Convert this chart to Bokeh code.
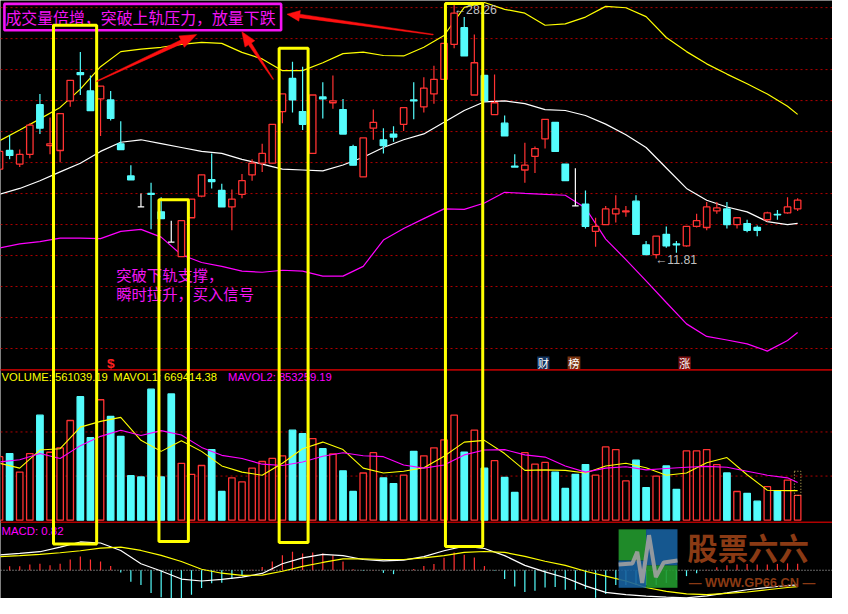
import math
from bokeh.plotting import figure
from bokeh.models import Range1d, Span
from bokeh.embed import file_html
from bokeh.resources import INLINE
from bokeh.core.properties import value

# ---------------- data ----------------
open_ = [17.58, 18.78, 17.90, 18.53, 21.73, 19.09, 18.78, 21.98, 23.81, 22.62,
         22.11, 22.04, 19.21, 17.14, 15.14, 16.01, 14.82, 12.87, 11.93, 14.44,
         15.83, 16.89, 16.20, 15.14, 15.95, 17.21, 17.96, 17.96, 21.29, 23.43,
         21.29, 18.59, 22.23, 21.86, 21.42, 19.03, 17.08, 20.22, 19.47, 19.84,
         20.47, 22.04, 21.60, 22.43, 23.37, 25.63, 26.70, 22.36, 23.62, 21.10,
         20.54, 17.77, 17.52, 18.40, 19.53, 20.60, 17.90, 15.20, 15.32, 13.56,
         14.00, 14.69, 14.82, 15.51, 12.69, 12.06, 13.37, 12.75, 12.62, 13.88,
         13.81, 14.88, 15.01, 14.00, 14.06, 13.81, 14.31, 14.66, 14.75, 15.01]
high = [18.72, 19.78, 18.84, 20.54, 22.43, 20.91, 21.16, 23.31, 25.13, 23.62,
        22.93, 22.62, 20.66, 17.83, 16.01, 16.70, 15.76, 14.25, 14.25, 15.64,
        17.21, 18.59, 16.64, 16.26, 17.27, 18.21, 19.21, 20.47, 22.43, 24.50,
        24.19, 22.36, 23.18, 23.62, 22.11, 19.15, 19.59, 21.42, 20.22, 20.35,
        21.54, 23.18, 23.50, 24.25, 25.69, 28.26, 27.39, 26.26, 23.62, 23.68,
        21.04, 18.53, 19.28, 19.03, 20.79, 20.60, 17.90, 17.64, 16.20, 14.44,
        15.20, 15.89, 15.20, 15.89, 12.94, 13.25, 13.88, 12.94, 13.88, 14.69,
        15.45, 15.45, 15.45, 14.44, 14.31, 13.94, 14.82, 14.94, 15.76, 15.70]
low = [17.58, 18.21, 17.71, 18.28, 19.84, 18.53, 18.02, 21.60, 22.36, 21.35,
       19.72, 20.72, 18.84, 16.89, 15.14, 13.69, 14.38, 12.87, 11.93, 14.44,
       15.76, 16.33, 15.14, 13.63, 15.70, 16.83, 17.39, 17.96, 20.54, 21.23,
       20.10, 18.59, 20.85, 21.48, 19.84, 17.83, 17.08, 19.47, 18.59, 19.34,
       20.03, 20.79, 21.23, 21.79, 23.37, 25.38, 24.88, 22.36, 21.98, 21.10,
       19.72, 17.71, 16.70, 17.33, 18.90, 18.72, 16.83, 15.20, 13.75, 12.56,
       14.00, 14.13, 14.50, 13.37, 12.06, 11.81, 12.50, 12.18, 12.56, 13.81,
       13.63, 14.69, 13.75, 13.75, 13.50, 13.25, 14.19, 14.31, 14.69, 14.88]
close = [18.72, 18.46, 18.53, 20.41, 20.22, 19.21, 21.16, 23.31, 23.68, 21.35,
         22.93, 20.85, 18.84, 16.89, 15.14, 15.95, 14.38, 12.87, 14.25, 15.64,
         17.21, 16.77, 15.14, 15.64, 16.83, 17.96, 18.59, 20.47, 22.43, 22.04,
         20.47, 22.36, 22.11, 21.98, 19.84, 17.83, 19.59, 20.60, 19.09, 19.65,
         21.54, 21.98, 22.80, 23.37, 25.69, 27.64, 24.88, 24.44, 21.98, 21.86,
         19.72, 17.71, 17.83, 18.90, 20.79, 18.72, 16.83, 15.20, 13.88, 13.88,
         15.01, 15.01, 14.88, 13.37, 12.06, 13.25, 12.62, 12.69, 13.88, 14.25,
         15.14, 15.07, 14.00, 14.44, 13.63, 13.63, 14.75, 14.63, 15.14, 15.57]
volume = [1440000, 1510000, 1090000, 1510000, 2380000, 1540000, 1640000, 2260000, 2800000, 1870000,
          2730000, 2350000, 1900000, 1010000, 980000, 2970000, 980000, 2860000, 1290000, 1040000,
          1240000, 1600000, 650000, 960000, 870000, 1180000, 1330000, 1400000, 1460000, 2040000,
          1960000, 1850000, 1620000, 1500000, 1120000, 650000, 1070000, 1530000, 960000, 830000,
          1020000, 1560000, 1460000, 1640000, 1820000, 2380000, 1540000, 2040000, 1180000, 1350000,
          970000, 630000, 1530000, 1270000, 1310000, 1090000, 720000, 1040000, 1260000, 1020000,
          1660000, 1600000, 890000, 1360000, 740000, 1000000, 1230000, 700000, 1570000, 1570000,
          1600000, 1260000, 1070000, 650000, 610000, 430000, 760000, 670000, 910000, 561039.19]
est_last_volume = 1110000

# indicator lines, sampled at these candle indices
line_idx = [0, 2, 4, 6, 8, 10, 12, 14, 16, 18, 20, 22, 24, 26, 28, 30, 32, 34, 36, 38,
            40, 42, 44, 46, 48, 50, 52, 54, 56, 58, 60, 62, 64, 66, 68, 70, 72, 74, 76, 78, 79]
boll_upper = [19.41, 20.10, 20.82, 21.56, 22.74, 24.19, 25.16, 25.32, 25.44, 25.63,
              25.76, 25.69, 25.11, 24.69, 23.93, 23.93, 24.44, 25.03, 25.13, 24.91,
              24.88, 25.44, 26.20, 28.02, 28.33, 27.89, 27.64, 26.86, 26.95, 27.39,
              28.08, 27.99, 27.42, 26.07, 25.16, 24.37, 23.71, 23.09, 22.42, 21.64, 21.11]
boll_mid = [15.95, 16.33, 16.83, 17.40, 17.96, 18.72, 19.31, 19.47, 19.22, 18.97,
            18.72, 18.59, 18.21, 17.90, 17.58, 17.52, 17.46, 17.84, 18.34, 18.97,
            19.47, 19.85, 20.60, 21.36, 21.92, 21.98, 21.80, 21.42, 21.36, 21.04,
            20.48, 19.79, 18.97, 17.65, 16.33, 15.57, 15.13, 14.82, 14.19, 14.00, 14.07]
boll_lower = [12.49, 12.75, 12.90, 13.12, 13.12, 13.09, 13.56, 13.69, 13.19, 12.05,
              11.55, 11.30, 10.99, 10.92, 11.05, 10.99, 10.67, 10.67, 11.30, 13.00,
              13.75, 14.38, 15.01, 14.98, 15.39, 16.08, 16.01, 15.95, 15.89, 15.07,
              13.06, 11.74, 10.36, 8.97, 7.59, 6.78, 6.55, 6.30, 5.83, 6.52, 7.03]
mavol1 = [1290000, 1180000, 1590000, 1620000, 2110000, 2240000, 2330000, 1810000, 1560000, 1800000,
          1560000, 1230000, 1090000, 1020000, 1290000, 1620000, 1770000, 1600000, 1180000, 1070000,
          1110000, 1190000, 1450000, 1770000, 1810000, 1510000, 1130000, 1140000, 1130000, 1070000,
          1230000, 1290000, 1190000, 1020000, 1070000, 1300000, 1420000, 1030000, 680000, 670000, 669414.38]
mavol2 = [1320000, 1370000, 1510000, 1400000, 1690000, 1900000, 2040000, 1920000, 2030000, 1930000,
          1650000, 1470000, 1400000, 1270000, 1240000, 1320000, 1450000, 1530000, 1460000, 1440000,
          1250000, 1180000, 1250000, 1480000, 1590000, 1600000, 1480000, 1430000, 1230000, 1090000,
          1180000, 1210000, 1140000, 1170000, 1200000, 1220000, 1200000, 1110000, 1020000, 960000, 853259.19]
dif = [1.96, 2.16, 2.38, 2.96, 3.63, 3.50, 2.54, 0.84, -0.09, -1.13,
       -1.38, -1.16, -0.88, -0.41, 0.84, 1.59, 2.04, 1.88, 1.38, 1.21,
       1.29, 1.75, 2.50, 3.09, 2.79, 1.88, 0.63, -0.21, -0.96, -2.00,
       -2.84, -3.13, -3.33, -3.46, -3.54, -3.29, -2.91, -2.50, -2.21, -1.96, -1.88]
dea = [1.75, 1.88, 2.04, 2.25, 2.50, 2.84, 2.96, 2.54, 1.91, 1.13,
       0.13, -0.38, -0.66, -0.63, -0.13, 0.50, 1.00, 1.46, 1.46, 1.38,
       1.38, 1.59, 1.88, 2.29, 2.41, 2.29, 1.79, 1.16, 0.63, -0.13,
       -0.75, -1.38, -2.21, -2.71, -3.04, -3.13, -2.96, -2.79, -2.50, -2.21, -2.09]
macd_hist = [0.50, 0.50, 0.50, 0.75, 0.84, 0.63, 0.84, 1.38, 1.75, 1.38,
             1.13, 0.54, -0.29, -1.46, -1.88, -2.91, -3.46, -3.80, -3.80, -3.13,
             -2.29, -1.66, -1.59, -1.13, -0.63, 0.05, 0.41, 1.13, 1.94, 2.38,
             2.16, 2.29, 2.16, 1.88, 1.13, 0.13, -0.06, 0.04, -0.34, -0.50,
             0.04, 0.16, 0.54, 0.79, 1.59, 2.29, 2.00, 1.63, 0.54, -0.06,
             -1.13, -2.09, -2.79, -2.63, -2.21, -2.16, -2.50, -2.50, -2.41, -3.54,
             -3.04, -1.88, -1.88, -1.88, -1.88, -1.88, -1.63, -1.25, -0.75, -0.38,
             0.05, 0.38, 0.63, 0.75, 0.81, 0.75, 0.75, 0.81, 0.88, 0.82]
price_grid = [6, 8, 10, 12, 14, 16, 18, 20, 22, 24, 26, 28]
volume_grid = [1000000, 2000000]
high_label = "←28.26"
low_label = "←11.81"
title_text = "成交量倍增，突破上轨压力，放量下跌"
note_lines = ["突破下轨支撑，", "瞬时拉升，买入信号"]

# ---------------- layout (reference pixel frame 848x614) ----------------
W, H = 832, 598
RW, RH = 848, 614
FS = W / RW
X_FIRST, X_STEP = -1.0, 10.297          # px of candle 0, px per candle
Y_P28, PX_PER_PRICE = 7.3, 15.91
Y_VOL0, PX_PER_MVOL = 533.6, 45.3
Y_MACD0, PX_PER_MACD = 585.0, 8.0
MAGENTA = "#f414f4"


def fpx(v):
    return f"{v * FS:.1f}px"


p = figure(width=W, height=H, x_range=Range1d(0, RW), y_range=Range1d(RH, 0),
           output_backend="svg", toolbar_location=None, x_axis_type=None, y_axis_type=None,
           min_border=0, background_fill_color="black", border_fill_color="black",
           outline_line_color=None, title=None)
p.extra_x_ranges = {"idx": Range1d((0 - X_FIRST) / X_STEP, (RW - X_FIRST) / X_STEP)}
p.extra_y_ranges = {
    "price": Range1d(28 - (RH - Y_P28) / PX_PER_PRICE, 28 + Y_P28 / PX_PER_PRICE),
    "vol": Range1d(-(RH - Y_VOL0) / PX_PER_MVOL * 1e6, Y_VOL0 / PX_PER_MVOL * 1e6),
    "macd": Range1d(-(RH - Y_MACD0) / PX_PER_MACD, Y_MACD0 / PX_PER_MACD),
}
P = dict(x_range_name="idx", y_range_name="price")
V = dict(x_range_name="idx", y_range_name="vol")
M = dict(x_range_name="idx", y_range_name="macd")

GRID = "#b00000"
for g in price_grid:
    p.add_layout(Span(location=g, dimension="width", y_range_name="price", line_color=GRID,
                      line_dash="2 3", line_width=1, level="underlay"))
for g in volume_grid:
    p.add_layout(Span(location=g, dimension="width", y_range_name="vol", line_color=GRID,
                      line_dash="2 3", line_width=1, level="underlay"))
p.add_layout(Span(location=0, dimension="width", y_range_name="macd", line_color="#c8c8c8",
                  line_dash="1 2", line_width=1, level="underlay"))
for sep in (379.3, 535.7):
    p.add_layout(Span(location=sep, dimension="width", line_color="#b00000",
                      line_width=1.6, level="underlay"))

RED, CYAN, WHITE = "#ff3232", "#54fcfc", "#ffffff"
N = len(close)
idx = list(range(N))
BW = 0.32

# Bollinger-type bands
p.line(line_idx, boll_upper, line_color="#ffff00", line_width=1.2, **P)
p.line(line_idx, boll_mid, line_color=WHITE, line_width=1.2, **P)
p.line(line_idx, boll_lower, line_color="#ff00ff", line_width=1.2, **P)

# candles
col = [WHITE if c == o else (RED if c > o else CYAN) for o, c in zip(open_, close)]
fill = ["#000000" if c > o else k for o, c, k in zip(open_, close, col)]
p.segment(x0=idx, y0=low, x1=idx, y1=high, line_color=col, line_width=1.2, **P)
p.quad(left=[i - BW for i in idx], right=[i + BW for i in idx],
       top=[max(o, c) for o, c in zip(open_, close)],
       bottom=[min(o, c) for o, c in zip(open_, close)],
       fill_color=fill, line_color=col, line_width=1.3, **P)

# volume
vcol = [RED if c > o else CYAN for o, c in zip(open_, close)]
vfill = ["#000000" if c > o else CYAN for o, c in zip(open_, close)]
p.quad(left=[i - BW for i in idx], right=[i + BW for i in idx], top=volume,
       bottom=[0] * N, fill_color=vfill, line_color=vcol, line_width=1.3, **V)
p.quad(left=[idx[-1] - BW], right=[idx[-1] + BW], top=[est_last_volume], bottom=[volume[-1]],
       fill_color=None, line_color="#d8c060", line_dash="1 2", line_width=1, **V)
p.line(line_idx, mavol1, line_color="#ffff00", line_width=1.1, **V)
p.line(line_idx, mavol2, line_color="#ff00ff", line_width=1.1, **V)

# MACD
hcol = [RED if h >= 0 else CYAN for h in macd_hist]
p.segment(x0=idx, y0=[0] * N, x1=idx, y1=macd_hist, line_color=hcol, line_width=1.2, **M)
p.line(line_idx, dif, line_color=WHITE, line_width=1.2, **M)
p.line(line_idx, dea, line_color="#ffff00", line_width=1.2, **M)


def txt(x, y, s, color, size, font="Liberation Sans", align="left", style="normal"):
    p.text(x=[x], y=[y], text=[s], text_color=color, text_font_size=value(fpx(size)),
           text_font=value(font), text_align=align, text_baseline="middle",
           text_font_style=style)


# panel texts
txt(1, 387, f"VOLUME: {volume[-1]:.2f}", "#ffff00", 11.4)
txt(115, 387, f"MAVOL1: {mavol1[-1]:.2f}", "#ffff00", 11.4)
txt(232, 387, f"MAVOL2: {mavol2[-1]:.2f}", "#ff00ff", 11.4)
txt(1, 544.5, f"MACD: {macd_hist[-1]:.2f}", "#ff00ff", 11.6)
txt(462, 10, high_label, "#c0c0c0", 12.5)
txt(667, 266.5, low_label, "#c0c0c0", 12.5)

# badges
txt(112.5, 373, "$", "#ff2020", 14, style="bold", align="center")
for (x0, x1, bg, ch) in [(547, 559.5, "#12335e", "财"), (578, 591, "#7a3410", "榜"),
                         (691, 703.5, "#7a1010", "涨")]:
    p.quad(left=[x0], right=[x1], top=[365.5], bottom=[378.5], fill_color=bg, line_color=None)
    txt((x0 + x1) / 2, 372, ch, WHITE, 11.5, font="Noto Sans CJK SC", align="center")

# annotations
txt(5, 17, title_text, MAGENTA, 16.2, font="Noto Sans CJK SC")
txt(118, 280.5, note_lines[0], MAGENTA, 15.6, font="Noto Sans CJK SC")
txt(118, 300.5, note_lines[1], MAGENTA, 15.6, font="Noto Sans CJK SC")

p.quad(left=[4], right=[286], top=[3.5], bottom=[30.5], fill_color=None,
       line_color=MAGENTA, line_width=2.6)
p.quad(left=[54, 161.5, 284, 453.5], right=[98, 191.5, 313.5, 491.5],
       top=[25.5, 204.5, 49, 3], bottom=[558, 555.5, 556.5, 560.5],
       fill_color=None, line_color="#ffff00", line_width=3)


def arrow_poly(x0, y0, x1, y1, head_len, head_w, shaft_w):
    L = math.hypot(x1 - x0, y1 - y0)
    dx, dy = (x1 - x0) / L, (y1 - y0) / L
    nx, ny = -dy, dx
    bx, by = x1 - dx * head_len, y1 - dy * head_len
    pts = [(x0 + nx * 0.4, y0 + ny * 0.4), (bx + nx * shaft_w, by + ny * shaft_w),
           (bx + nx * head_w, by + ny * head_w), (x1, y1),
           (bx - nx * head_w, by - ny * head_w), (bx - nx * shaft_w, by - ny * shaft_w),
           (x0 - nx * 0.4, y0 - ny * 0.4)]
    return [q[0] for q in pts], [q[1] for q in pts]


arrows = [(98, 83, 200, 35, 17, 6.5, 2.0), (278, 81, 246, 32, 15, 6.0, 1.8),
          (441, 35, 292, 14, 13, 5.5, 1.8)]
axs, ays = [], []
for a in arrows:
    xs, ys = arrow_poly(*a)
    axs.append(xs)
    ays.append(ys)
p.patches(axs, ays, fill_color="#ff1010", line_color="#ff1010", line_width=0.5)

# watermark logo (bottom right)
p.quad(left=[630, 630, 658, 658], right=[658, 658, 690, 690], top=[543, 575, 543, 580],
       bottom=[575, 603, 580, 603], fill_color=["#22992e", "#17609e", "#17609e", "#22992e"],
       line_color=None, fill_alpha=0.9)
p.line([630, 644, 649, 654, 661, 668, 676, 690], [579, 578, 566, 598, 549, 592, 577, 575],
       line_color="#a0a0a0", line_width=4, line_alpha=0.9)
txt(700, 561, "股票六六", "#8a3a14", 31, font="Noto Sans CJK SC", style="bold")
txt(766, 598, "— WWW.GP66.CN —", "#8a3a14", 13, align="center", style="bold")

open("out.html", "w").write(file_html(p, INLINE))
